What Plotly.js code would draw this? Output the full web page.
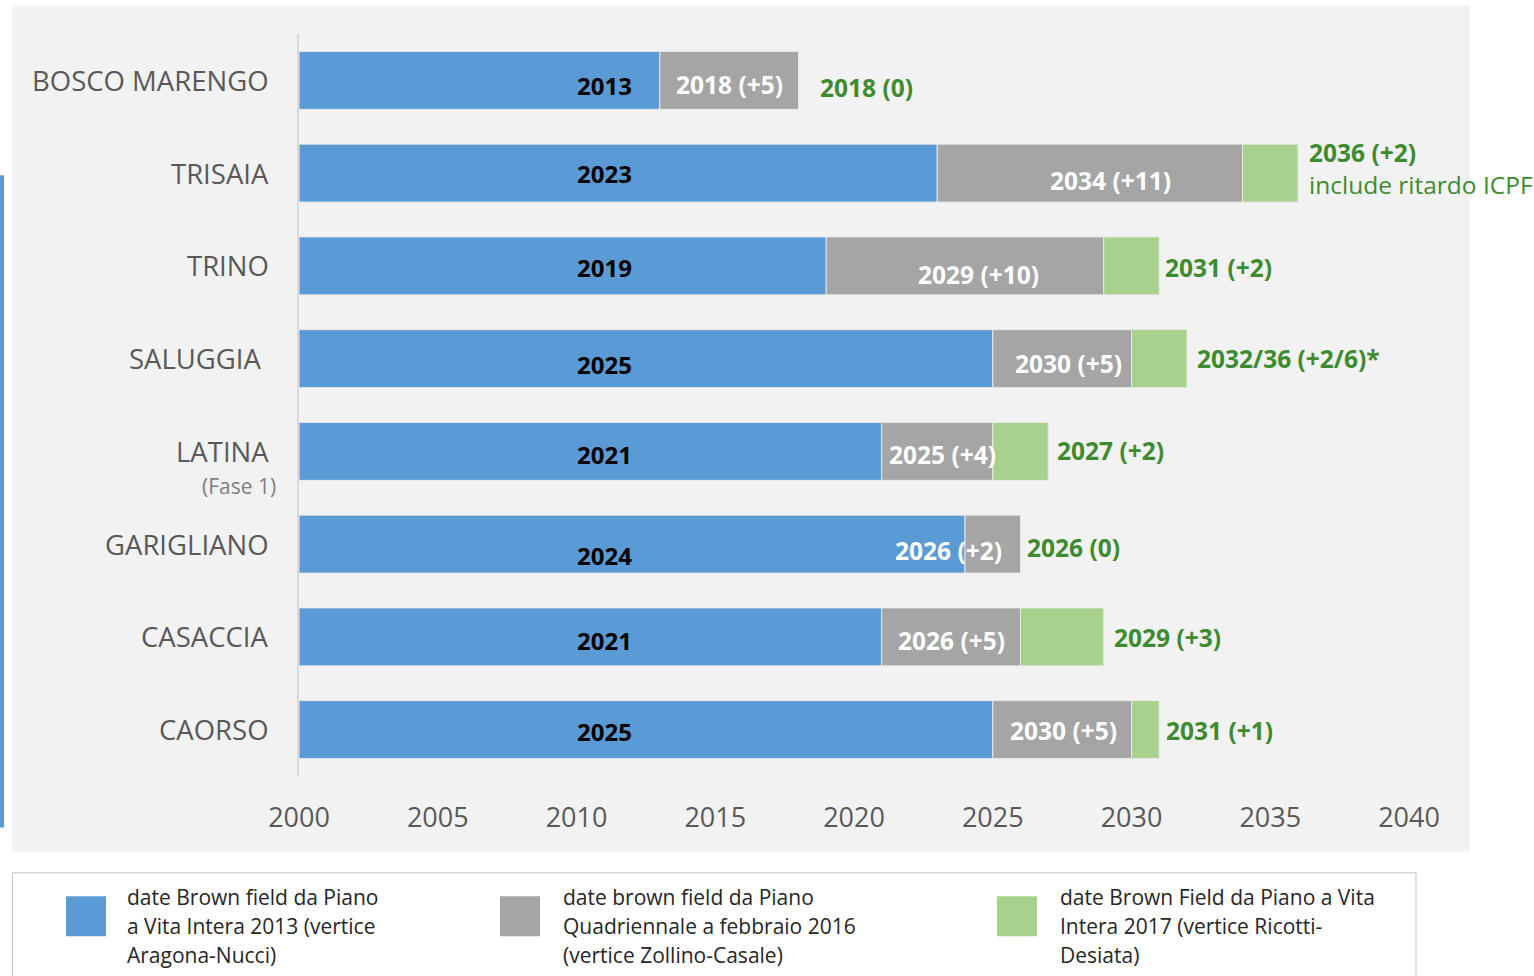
<!DOCTYPE html>
<html>
<head>
<meta charset="utf-8">
<script src="https://cdn.plot.ly/plotly-3.0.1.min.js"></script>
<style>
html,body{margin:0;padding:0;background:#ffffff;}
#chart{width:1534px;height:976px;}
</style>
</head>
<body>
<div id="chart"></div>
<script>
// ---------- DATA ----------
const sites = ["BOSCO MARENGO","TRISAIA","TRINO","SALUGGIA","LATINA","GARIGLIANO","CASACCIA","CAORSO"];
const siteSub = ["","","","","(Fase 1)","","",""];
const date2013 = [2013, 2023, 2019, 2025, 2021, 2024, 2021, 2025];   // Piano a Vita Intera 2013
const date2016 = [2018, 2034, 2029, 2030, 2025, 2026, 2026, 2030];   // Piano Quadriennale 2016
const date2017 = [2018, 2036, 2031, 2032, 2027, 2026, 2029, 2031];   // Piano a Vita Intera 2017
const label2013 = ["2013","2023","2019","2025","2021","2024","2021","2025"];
const label2016 = ["2018 (+5)","2034 (+11)","2029 (+10)","2030 (+5)","2025 (+4)","2026 (+2)","2026 (+5)","2030 (+5)"];
const label2017 = ["2018 (0)","2036 (+2)","2031 (+2)","2032/36 (+2/6)*","2027 (+2)","2026 (0)","2029 (+3)","2031 (+1)"];
const label2017Note = ["","include ritardo ICPF","","","","","",""];
const legendNames = [
  ["date Brown field da Piano","a Vita Intera 2013 (vertice","Aragona-Nucci)"],
  ["date brown field da Piano","Quadriennale a febbraio 2016","(vertice Zollino-Casale)"],
  ["date Brown Field da Piano a Vita","Intera 2017 (vertice Ricotti-","Desiata)"]
];
const xTicks = [2000, 2005, 2010, 2015, 2020, 2025, 2030, 2035, 2040];

// ---------- STYLE / LAYOUT TUNING (not data) ----------
const colors = ["#5b9bd5", "#a5a5a5", "#a9d18e"];
const green = "#3d8b2f";
const greyLabelShift = [[0,4],[21,7],[13,9],[6,5],[5,3],[-44,6],[0,4],[1,1]];
const blueLabelShiftY = [5,0,2,6,3,11,4,2];
const greenLabelShift = [[19,7],[9,-5],[4,2],[8,0],[7,-1],[4,3],[8,1],[5,1]];

const L = 299, R = 1409, T = 33.5, B = 776.5;
const W = 1534, H = 976;
const px = v => (v - L) / (R - L);
const py = v => (B - v) / (B - T);

const font = "'Open Sans', 'Noto Sans', sans-serif";

const base1 = sites.map(() => 2000);
const traces = [
  {type:"bar", orientation:"h", y:sites, base:base1, x:date2013.map((d,i)=>d-base1[i]),
   marker:{color:colors[0], line:{color:"#e8e8e8", width:1}}, width:0.625, hoverinfo:"skip", showlegend:false},
  {type:"bar", orientation:"h", y:sites, base:date2013, x:date2016.map((d,i)=>d-date2013[i]),
   marker:{color:colors[1], line:{color:"#e8e8e8", width:1}}, width:0.625, hoverinfo:"skip", showlegend:false},
  {type:"bar", orientation:"h", y:sites, base:date2016, x:date2017.map((d,i)=>d-date2016[i]),
   marker:{color:colors[2], line:{color:"#e8e8e8", width:1}}, width:0.625, hoverinfo:"skip", showlegend:false}
];

const annotations = [];
sites.forEach((s,i)=>{
  // category labels
  annotations.push({xref:"paper", yref:"y", x:px(271), y:s, xanchor:"right", yanchor:"middle",
    text:s, showarrow:false, font:{family:font, size:27.5, color:"#595959"},
    xshift: s==="SALUGGIA" ? -7 : 0});
  if (siteSub[i]) {
    annotations.push({xref:"paper", yref:"y", x:px(278), y:s, xanchor:"right", yanchor:"middle",
      text:siteSub[i], showarrow:false, yshift:-35, font:{family:font, size:21, color:"#7f7f7f"}});
  }
  // blue labels
  annotations.push({xref:"x", yref:"y", x:2011, y:s, xanchor:"center", yanchor:"middle",
    text:"<b>"+label2013[i]+"</b>", showarrow:false, yshift:-blueLabelShiftY[i],
    font:{family:font, size:24, color:"#000000"}});
  // grey labels
  annotations.push({xref:"x", yref:"y", x:(date2013[i]+date2016[i])/2, y:s, xanchor:"center", yanchor:"middle",
    text:"<b>"+label2016[i]+"</b>", showarrow:false, xshift:greyLabelShift[i][0], yshift:-greyLabelShift[i][1],
    font:{family:font, size:24.5, color:"#ffffff"}});
  // green labels
  let t = "<b>"+label2017[i]+"</b>";
  if (label2017Note[i]) t += "<br>"+label2017Note[i];
  annotations.push({xref:"x", yref:"y", x:date2017[i], y:s, xanchor:"left", yanchor:"middle",
    text:t, align:"left", showarrow:false, xshift:greenLabelShift[i][0], yshift:-greenLabelShift[i][1],
    font:{family:font, size:24.5, color:green}});
});

// legend
const legKeyX = [66, 500, 997];
const legTextX = [125, 561, 1058];
const shapes = [
  {type:"rect", xref:"paper", yref:"paper", x0:px(12), x1:px(1470), y0:py(852), y1:py(5),
   fillcolor:"#f2f2f2", line:{width:0}, layer:"below"},
  {type:"rect", xref:"paper", yref:"paper", x0:px(0), x1:px(4), y0:py(828), y1:py(175),
   fillcolor:"#5b9bd5", line:{width:0}, layer:"below"},
  {type:"rect", xref:"paper", yref:"paper", x0:px(12.5), x1:px(1416), y0:py(990), y1:py(873.5),
   fillcolor:"#ffffff", line:{color:"#bfbfbf", width:1}, layer:"below"}
];
legendNames.forEach((lines, k)=>{
  shapes.push({type:"rect", xref:"paper", yref:"paper", x0:px(legKeyX[k]), x1:px(legKeyX[k]+40),
    y0:py(937), y1:py(897), fillcolor:colors[k], line:{width:0}});
  lines.forEach((ln, j)=>{
    annotations.push({xref:"paper", yref:"paper", x:px(legTextX[k]), y:py(898 + 29*j),
      xanchor:"left", yanchor:"middle", text:ln, showarrow:false,
      font:{family:font, size:21, color:"#262626"}});
  });
});

const layout = {
  width:W, height:H,
  margin:{l:L, r:W-R, t:T, b:H-B, pad:0},
  paper_bgcolor:"#ffffff",
  plot_bgcolor:"#f2f2f2",
  barmode:"overlay",
  showlegend:false,
  xaxis:{range:[2000,2040], tickvals:xTicks, ticktext:xTicks.map(String), showgrid:false, zeroline:false,
    showline:false, ticks:"outside", ticklen:18, tickcolor:"rgba(0,0,0,0)",
    tickfont:{family:font, size:27, color:"#595959"}, fixedrange:true},
  yaxis:{type:"category", categoryarray:sites, range:[7.5,-0.5], showticklabels:false, showgrid:false,
    zeroline:false, showline:true, linecolor:"#d9d9d9", linewidth:2, ticks:"", fixedrange:true},
  shapes:shapes,
  annotations:annotations
};

Plotly.newPlot("chart", traces, layout, {displayModeBar:false, staticPlot:true});
</script>
</body>
</html>
